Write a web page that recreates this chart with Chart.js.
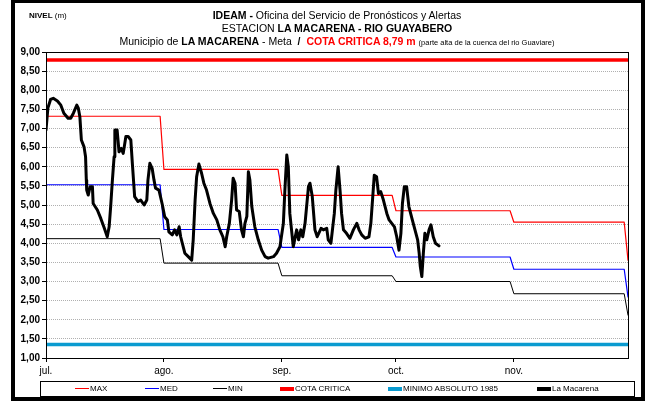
<!DOCTYPE html>
<html>
<head>
<meta charset="utf-8">
<script src="https://cdn.jsdelivr.net/npm/chart.js@4.4.1/dist/chart.umd.min.js"></script>
<style>
  html, body { margin: 0; padding: 0; background: #fff; }
  #wrap { position: relative; width: 645px; height: 401px; overflow: hidden;
          font-family: "Liberation Sans", Arial, sans-serif; color: #000; }
  #frame { position: absolute; left: 11px; top: 0; width: 634px; height: 401px;
           box-sizing: border-box; border: solid #000; border-width: 3px 4px 4px 4px; }
  canvas { position: absolute; left: 0; top: 0; }
  .line { position: absolute; left: 0; width: 674px; text-align: center; white-space: nowrap;
          font-size: 10.5px; line-height: 12px; }
  .nivel { position: absolute; left: 29px; top: 11px; font-size: 8px; line-height: 10px; white-space: nowrap; }
  .small { font-size: 7.5px; }
  .red { color: #ff0000; }
  #legend { position: absolute; left: 40px; top: 381px; width: 595px; height: 16px;
            box-sizing: border-box; border: 1px solid #000; }
  .item { position: absolute; top: 0; height: 14px; line-height: 14px; font-size: 8px; white-space: nowrap; }
  .item span.sw { display: inline-block; width: 14px; vertical-align: middle; margin-right: 1px; }
</style>
</head>
<body>
<div id="wrap">
  <canvas id="nivel_chart" width="645" height="401"></canvas>
  <div class="nivel"><b>NIVEL</b> (m)</div>
  <div class="line" style="top:9px"><b>IDEAM -</b> Oficina del Servicio de Pronósticos y Alertas</div>
  <div class="line" style="top:22px">ESTACION <b>LA MACARENA - RIO GUAYABERO</b></div>
  <div class="line" style="top:35px">Municipio de <b>LA MACARENA</b> - Meta <b>&nbsp;/&nbsp;</b> <b class="red">COTA CRITICA 8,79 m</b> <span class="small">(parte alta de la cuenca del rio Guaviare)</span></div>
  <div id="legend"></div>
  <div id="frame"></div>
</div>
<script>
// dias desde el 1 de julio en que empieza cada mes
const monthStarts = [0, 31, 62, 92, 123, 153];
const monthLabels = ['jul.', 'ago.', 'sep.', 'oct.', 'nov.'];

// niveles mensuales historicos (jul .. nov, y el valor de dic al final)
const maxLevels = [7.32, 5.93, 5.25, 4.85, 4.55, 3.56];
const medLevels = [5.53, 4.36, 3.89, 3.64, 3.32, 2.60];
const minLevels = [4.12, 3.48, 3.15, 3.00, 2.68, 2.12];

const cotaCritica = 8.79;
const minimoAbsoluto = 1.35;

// lecturas de la estacion La Macarena (dia desde 1 jul, nivel en m)
const obsDays = [0, 0.5, 1.2, 1.9, 3.0, 3.9, 4.7, 5.8, 6.5, 7.2,
    8.1, 8.5, 8.9, 9.3, 10.0, 10.4, 10.6, 10.7, 11.1, 11.6,
    12.2, 12.4, 13.5, 14.4, 15.2, 16.1, 16.6, 17.0, 17.4, 17.9,
    18.1, 18.7, 19.2, 19.8, 20.3, 21.0, 21.6, 22.3, 22.7, 23.3,
    24.2, 24.9, 25.8, 26.5, 26.8, 27.3, 27.9, 28.4, 28.8, 29.7,
    30.6, 31.2, 31.9, 32.3, 33.2, 33.8, 34.4, 35.0, 35.4, 36.5,
    37.4, 38.3, 38.7, 39.2, 39.6, 40.2, 40.9, 41.5, 42.2, 43.1,
    44.0, 44.9, 45.7, 46.5, 47.1, 47.5, 48.2, 48.8, 49.2, 49.7,
    50.1, 50.8, 51.4, 51.9, 52.3, 52.8, 53.2, 53.6, 54.1, 54.9,
    55.8, 56.7, 57.6, 58.4, 59.8, 60.6, 61.5, 62.4, 62.8, 63.3,
    63.7, 64.1, 65.0, 65.9, 66.4, 67.0, 67.5, 68.1, 69.0, 69.4,
    70.0, 70.7, 71.3, 72.3, 72.9, 73.8, 74.2, 74.9, 75.3, 75.8,
    76.2, 76.8, 77.3, 77.7, 78.2, 79.0, 79.9, 80.8, 81.7, 82.3,
    83.0, 83.9, 84.9, 85.4, 85.9, 86.3, 86.9, 87.4, 88.0, 88.7,
    89.6, 90.2, 90.9, 91.6, 92.2, 92.8, 93.3, 93.7, 94.2, 94.8,
    95.4, 96.3, 97.0, 97.7, 98.1, 98.4, 98.8, 99.2, 99.6, 100.1,
    100.7, 101.2, 101.8, 102.4, 103.3];
const obsLevels = [6.96, 7.54, 7.76, 7.79, 7.72, 7.61, 7.40, 7.27, 7.27, 7.40,
    7.61, 7.53, 7.31, 6.70, 6.52, 6.26, 5.65, 5.39, 5.26, 5.48,
    5.48, 5.04, 4.87, 4.65, 4.43, 4.17, 4.43, 4.96, 5.57, 6.26,
    6.96, 6.96, 6.39, 6.48, 6.35, 6.79, 6.79, 6.70, 6.09, 5.22,
    5.09, 5.13, 5.00, 5.13, 5.65, 6.09, 5.96, 5.65, 5.44, 5.39,
    5.00, 4.69, 4.61, 4.30, 4.22, 4.35, 4.22, 4.43, 4.17, 3.74,
    3.65, 3.56, 4.09, 5.13, 5.74, 6.07, 5.83, 5.57, 5.39, 5.04,
    4.78, 4.61, 4.35, 4.17, 3.91, 4.17, 4.52, 5.13, 5.70, 5.57,
    4.87, 4.83, 4.35, 4.17, 4.52, 4.70, 5.87, 5.65, 4.96, 4.43,
    4.09, 3.82, 3.65, 3.61, 3.65, 3.74, 3.91, 4.52, 5.39, 6.31,
    6.00, 4.78, 3.91, 4.35, 4.09, 4.35, 4.17, 4.52, 5.48, 5.57,
    5.22, 4.35, 4.17, 4.39, 4.35, 4.39, 4.09, 4.00, 4.35, 4.78,
    5.39, 6.00, 5.39, 4.78, 4.35, 4.26, 4.13, 4.35, 4.52, 4.35,
    4.22, 4.13, 4.17, 4.52, 5.22, 5.78, 5.74, 5.30, 5.35, 5.13,
    4.78, 4.61, 4.52, 4.43, 4.17, 3.82, 4.26, 5.04, 5.48, 5.48,
    4.96, 4.61, 4.35, 4.09, 3.74, 3.39, 3.13, 3.74, 4.26, 4.09,
    4.35, 4.48, 4.17, 4.00, 3.93];

// escalones mensuales: mismo valor desde el primer hasta el ultimo dia del mes
function monthlySteps(levels) {
    let points = [];
    for (let i = 0; i < monthStarts.length - 1; i++) {
        points.push({ x: monthStarts[i], y: levels[i] });
        points.push({ x: monthStarts[i + 1] - 1, y: levels[i] });
    }
    points.push({ x: monthStarts[monthStarts.length - 1], y: levels[levels.length - 1] });
    return points;
}

function flatLine(value) {
    return [{ x: monthStarts[0], y: value }, { x: monthStarts[monthStarts.length - 1], y: value }];
}

const FONT = '"Liberation Sans", Arial, sans-serif';

let datasets = [
    { label: 'MAX', data: monthlySteps(maxLevels), borderColor: '#ff0000', borderWidth: 1.2, legendWidth: 1 },
    { label: 'MED', data: monthlySteps(medLevels), borderColor: '#0000ff', borderWidth: 1.2, legendWidth: 1 },
    { label: 'MIN', data: monthlySteps(minLevels), borderColor: '#000000', borderWidth: 1, legendWidth: 1 },
    { label: 'COTA CRITICA', data: flatLine(cotaCritica), borderColor: '#ff0000', borderWidth: 3.5, legendWidth: 4 },
    { label: 'MINIMO ABSOLUTO 1985', data: flatLine(minimoAbsoluto), borderColor: '#0a9bd0', borderWidth: 3.5, legendWidth: 4 },
    { label: 'La Macarena', data: obsDays.map((d, i) => ({ x: d, y: obsLevels[i] })), borderColor: '#000000', borderWidth: 3, legendWidth: 4, order: -1 }
];
datasets.forEach(ds => {
    ds.pointRadius = 0;
    ds.tension = 0;
    ds.fill = false;
    ds.borderJoinStyle = 'round';
    ds.borderCapStyle = 'round';
    if (ds.order === undefined) ds.order = 0;
});

// borde negro alrededor del area de la grafica
const plotBorder = {
    id: 'plotBorder',
    afterDraw(chart) {
        const a = chart.chartArea;
        const ctx = chart.ctx;
        ctx.save();
        ctx.strokeStyle = '#000';
        ctx.lineWidth = 1;
        ctx.strokeRect(Math.round(a.left) + 0.5, Math.round(a.top) + 0.5,
            Math.round(a.right - a.left), Math.round(a.bottom - a.top));
        ctx.restore();
    }
};

const ctx = document.getElementById('nivel_chart');
const chart = new Chart(ctx, {
    type: 'line',
    data: { datasets: datasets },
    options: {
        responsive: false,
        animation: false,
        layout: { padding: { top: 52, right: 17, left: 0, bottom: 0 } },
        plugins: { legend: { display: false }, tooltip: { enabled: false } },
        scales: {
            x: {
                type: 'linear',
                min: monthStarts[0],
                max: monthStarts[monthStarts.length - 1],
                afterBuildTicks: scale => {
                    scale.ticks = monthStarts.slice(0, monthLabels.length).map(v => ({ value: v }));
                },
                afterFit: scale => { scale.height = 43; },
                grid: { drawOnChartArea: false, drawTicks: true, tickLength: 4, tickColor: '#000' },
                border: { color: '#000' },
                ticks: {
                    autoSkip: false,
                    maxRotation: 0,
                    padding: 3,
                    color: '#000',
                    font: { family: FONT, size: 10 },
                    callback: value => monthLabels[monthStarts.indexOf(value)]
                }
            },
            y: {
                min: 1,
                max: 9,
                afterFit: scale => { scale.width = 46; },
                grid: { color: '#b0b0b0', tickColor: '#000', tickLength: 4 },
                border: { color: '#000', dash: [1, 1] },
                ticks: {
                    stepSize: 0.5,
                    padding: 2,
                    color: '#000',
                    font: { family: FONT, size: 10, weight: 'bold' },
                    callback: value => value.toFixed(2).replace('.', ',')
                }
            }
        }
    },
    plugins: [plotBorder]
});

// leyenda en recuadro bajo el eje
const legendLeft = [75, 145, 213, 280, 388, 537];
const legendBox = document.getElementById('legend');
datasets.forEach((ds, i) => {
    const item = document.createElement('div');
    item.className = 'item';
    item.style.left = (legendLeft[i] - 41) + 'px';
    const sw = document.createElement('span');
    sw.className = 'sw';
    sw.style.height = ds.legendWidth + 'px';
    sw.style.background = ds.borderColor;
    item.appendChild(sw);
    item.appendChild(document.createTextNode(ds.label));
    legendBox.appendChild(item);
});
</script>
</body>
</html>
